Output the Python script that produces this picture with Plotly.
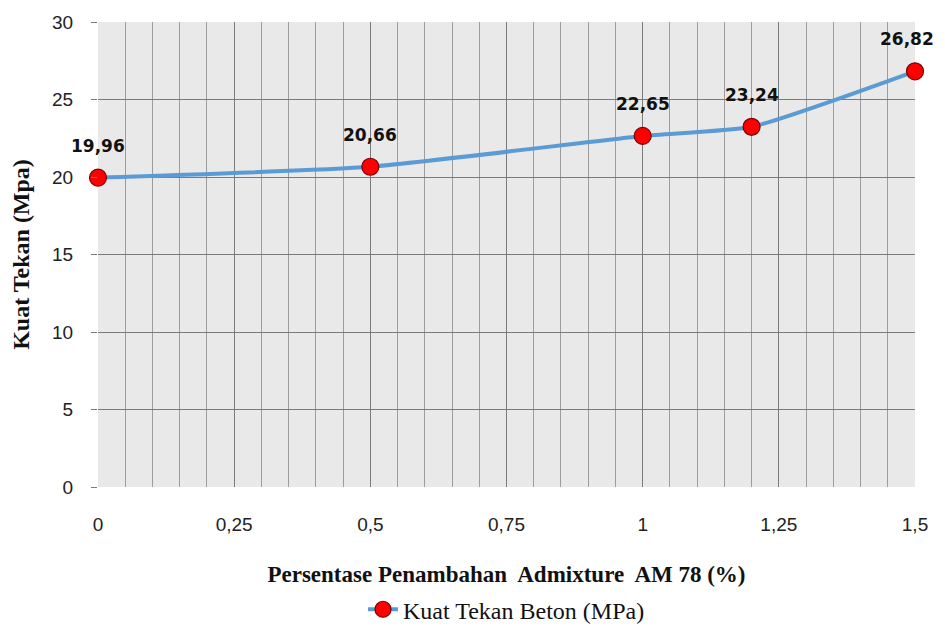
import plotly.graph_objects as go

persen = [0, 0.5, 1, 1.2, 1.5]
kuat_tekan = [19.96, 20.66, 22.65, 23.24, 26.82]
label_teks = ["19,96", "20,66", "22,65", "23,24", "26,82"]
x_tickvals = [0, 0.25, 0.5, 0.75, 1, 1.25, 1.5]
x_ticktext = ["0", "0,25", "0,5", "0,75", "1", "1,25", "1,5"]
y_tickvals = [0, 5, 10, 15, 20, 25, 30]

fig = go.Figure()
fig.add_trace(go.Scatter(
    x=persen, y=kuat_tekan,
    mode="lines+markers",
    name="Kuat Tekan Beton (MPa)",
    line=dict(color="#5b9bd5", width=4, shape="spline", smoothing=0.5),
    marker=dict(color="#ff0000", size=17, line=dict(color="#7a0000", width=1.2)),
    cliponaxis=False,
))

n = len(persen)
for i, (xv, yv, t) in enumerate(zip(persen, kuat_tekan, label_teks)):
    fig.add_annotation(
        x=xv, y=yv, text="<b>" + t + "</b>", showarrow=False,
        yshift=32, xshift=(-8 if i == n - 1 else 0),
        xanchor="center", yanchor="middle",
        font=dict(family="DejaVu Sans", size=17, color="#111111"),
    )

fig.update_layout(
    width=937, height=619,
    margin=dict(l=90, r=30, t=14, b=140),
    paper_bgcolor="white",
    plot_bgcolor="#e9e9e9",
    showlegend=True,
    legend=dict(orientation="h", x=0.5, xanchor="center",
                yref="container", y=0.028, yanchor="middle",
                font=dict(family="Liberation Serif", size=24, color="#111111")),
    xaxis=dict(
        range=[0, 1.5], automargin=False,
        tickvals=x_tickvals, ticktext=x_ticktext,
        tickfont=dict(family="Liberation Sans", size=19, color="#222222"),
        showgrid=True, gridcolor="#7a7a7a", gridwidth=1,
        zeroline=False, showline=False,
        minor=dict(dtick=0.05, showgrid=True, gridcolor="#9c9c9c", gridwidth=1, ticks=""),
        ticks="", ticklabelstandoff=24,
        title=dict(text="<b>Persentase Penambahan  Admixture  AM 78 (%)</b>",
                   font=dict(family="Liberation Serif", size=23, color="#111111"), standoff=34),
    ),
    yaxis=dict(
        range=[0, 30], automargin=False,
        tickvals=y_tickvals,
        tickfont=dict(family="Liberation Sans", size=19, color="#222222"),
        showgrid=True, gridcolor="#7a7a7a", gridwidth=1,
        zeroline=False, showline=False,
        ticks="outside", ticklen=6, tickcolor="#7a7a7a", ticklabelstandoff=14,
        title=dict(text="<b>Kuat Tekan (Mpa)</b>",
                   font=dict(family="Liberation Serif", size=24, color="#111111"), standoff=22),
    ),
)

fig.write_html("out.html")
